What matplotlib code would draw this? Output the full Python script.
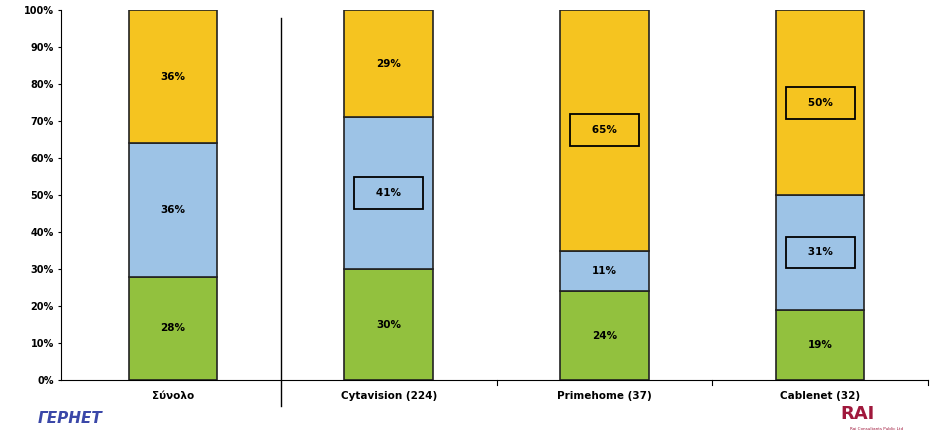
import matplotlib.pyplot as plt
import numpy as np

categories = ['Σύνολο', 'Cytavision (224)', 'Primehome (37)', 'Cablenet (32)']
green_vals = [28, 30, 24, 19]
blue_vals = [36, 41, 11, 31]
yellow_vals = [36, 29, 65, 50]
boxed = {(1, 'blue'), (2, 'yellow'), (3, 'yellow'), (3, 'blue')}
y_ticks = [0, 10, 20, 30, 40, 50, 60, 70, 80, 90, 100]

colors = {'green': '#92c13e', 'blue': '#9dc3e6', 'yellow': '#f5c420'}

fig = plt.figure(figsize=(9.48, 4.43), dpi=100)
ax = fig.add_axes([0.064, 0.142, 0.915, 0.835])

x = np.arange(len(categories))
bottom = np.zeros(len(categories))
for name, vals in [('green', green_vals), ('blue', blue_vals), ('yellow', yellow_vals)]:
    ax.bar(x, vals, width=0.41, bottom=bottom, color=colors[name],
           edgecolor='#222222', linewidth=1.2, zorder=2)
    for i, v in enumerate(vals):
        yc = bottom[i] + v / 2
        kw = dict(ha='center', va='center', fontsize=7.5, fontweight='bold', zorder=3)
        label = f'{v}%'
        if (i, name) in boxed:
            label = f'   {v}%   '
            kw['bbox'] = dict(boxstyle='square,pad=1.05', facecolor='none',
                              edgecolor='black', linewidth=1.3)
        ax.text(x[i], yc, label, **kw)
    bottom += np.array(vals)

ax.set_xlim(-0.52, 3.5)
ax.set_ylim(0, 100)
ax.set_yticks(y_ticks)
ax.set_yticklabels([f'{t}%' for t in y_ticks], fontsize=7, fontweight='bold')
ax.set_xticks(x)
ax.set_xticklabels(categories, fontsize=7.5, fontweight='bold')
ax.tick_params(axis='x', length=0, pad=8)
ax.tick_params(axis='y', length=2, pad=3)
for s in ['top', 'right']:
    ax.spines[s].set_visible(False)
ax.spines['left'].set_linewidth(0.8)
ax.spines['bottom'].set_linewidth(0.8)

# separator between total and operators
ax.plot([0.5, 0.5], [-7, 98], color='black', linewidth=1.0, clip_on=False, zorder=1)
for xs in [1.5, 2.5, 3.5]:
    ax.plot([xs, xs], [0, -1.2], color='black', linewidth=0.8, clip_on=False)

# logos
fig.text(0.04, 0.045, 'ΓΕΡΗΕΤ', color='#3a47a8', fontsize=11, fontstyle='italic',
         fontweight='bold')
fig.text(0.905, 0.055, 'RAI', color='#a0183c', fontsize=13, fontweight='bold',
         ha='center')
fig.text(0.925, 0.03, 'Rai Consultants Public Ltd', color='#a0183c', fontsize=3,
         ha='center')

fig.savefig('out.png', dpi=100)
